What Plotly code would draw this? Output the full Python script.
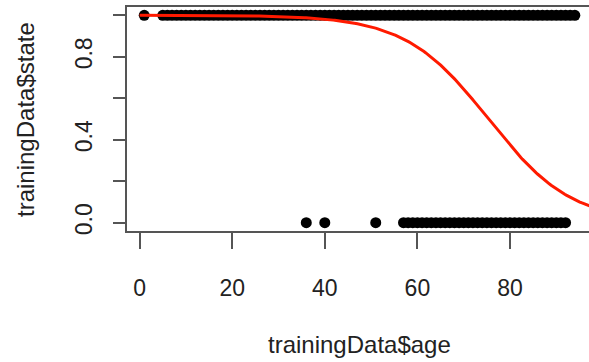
import numpy as np
import plotly.graph_objects as go

# Observed data (ages) by state
age_state1 = [1, 5, 6, 7, 8, 9, 10, 11, 12, 13, 14, 15, 16, 17, 18, 19, 20, 21, 22, 23, 24,
              25, 26, 27, 28, 29, 30, 31, 32, 33, 34, 35, 36, 37, 38, 39, 40, 41, 42, 43, 44,
              45, 46, 47, 48, 49, 50, 51, 52, 53, 54, 55, 56, 57, 58, 59, 60, 61, 62, 63, 64,
              65, 66, 67, 68, 69, 70, 71, 72, 73, 74, 75, 76, 77, 78, 79, 80, 81, 82, 83, 84,
              85, 86, 87, 88, 89, 90, 91, 92, 93, 94]
age_state0 = [36, 40, 51, 57, 58, 59, 60, 61, 62, 63, 64, 65, 66, 67, 68, 69, 70, 71, 72, 73,
              74, 75, 76, 77, 78, 79, 80, 81, 82, 83, 84, 85, 86, 87, 88, 89, 90, 91, 92]

# Fitted logistic model coefficients (logit p = intercept + slope * age)
glm_intercept = 8.4
glm_slope = -0.1115

x_ticks = [0, 20, 40, 60, 80]
y_ticks = [0.0, 0.2, 0.4, 0.6, 0.8, 1.0]
y_ticktext = ["0.0", "", "0.4", "", "0.8", ""]

x_curve = np.linspace(0, 97.7, 300)
y_curve = 1.0 / (1.0 + np.exp(-(glm_intercept + glm_slope * x_curve)))

FONT = "Liberation Sans, Arial, Helvetica, sans-serif"
TXT = "#222222"
LINE = "#555555"

fig = go.Figure()
fig.add_trace(go.Scatter(x=age_state1, y=[1] * len(age_state1), mode="markers",
                         marker=dict(color="black", size=11, line=dict(width=0)),
                         showlegend=False, hoverinfo="skip"))
fig.add_trace(go.Scatter(x=age_state0, y=[0] * len(age_state0), mode="markers",
                         marker=dict(color="black", size=11, line=dict(width=0)),
                         showlegend=False, hoverinfo="skip"))
fig.add_trace(go.Scatter(x=x_curve, y=y_curve, mode="lines",
                         line=dict(color="#ff1a00", width=3),
                         showlegend=False, hoverinfo="skip"))

L, T, W, H = 127, 7, 462, 224
fig.update_layout(
    width=589, height=362,
    margin=dict(l=L, r=589 - L - W, t=T, b=362 - T - H, pad=0),
    paper_bgcolor="white", plot_bgcolor="white",
    font=dict(family=FONT, size=23, color=TXT),
    xaxis=dict(range=[-2.72, 97.06], tickvals=x_ticks, ticktext=[str(v) for v in x_ticks],
               showgrid=False, zeroline=False, showline=True, mirror=True,
               linecolor=LINE, linewidth=1.5, ticks="outside", ticklen=16,
               tickcolor=LINE, tickwidth=1.5, ticklabelstandoff=20,
               tickfont=dict(family=FONT, size=23, color=TXT)),
    yaxis=dict(range=[-0.04, 1.04], tickvals=y_ticks, ticktext=y_ticktext,
               showgrid=False, zeroline=False, showline=True, mirror=False,
               linecolor=LINE, linewidth=1.5, ticks="outside", ticklen=12,
               tickcolor=LINE, tickwidth=1.5, tickangle=-90, ticklabelstandoff=12,
               tickfont=dict(family=FONT, size=23, color=TXT)),
    annotations=[
        dict(text="trainingData$age", xref="paper", yref="paper",
             x=(359 - L) / W, y=(T + H - 344) / H, showarrow=False,
             xanchor="center", yanchor="middle",
             font=dict(family=FONT, size=24, color=TXT)),
        dict(text="trainingData$state", xref="paper", yref="paper",
             x=(25 - L) / W, y=(T + H - 120) / H, showarrow=False, textangle=-90,
             xanchor="center", yanchor="middle",
             font=dict(family=FONT, size=24, color=TXT)),
    ],
)

fig.write_html("out.html")
